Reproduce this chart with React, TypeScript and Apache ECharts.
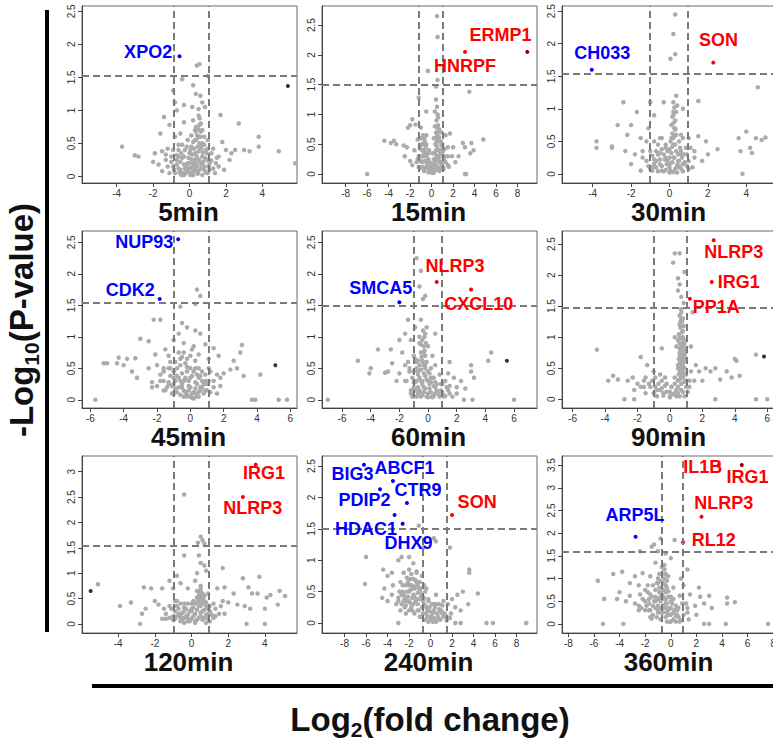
import React, { useEffect, useRef } from "react";
import * as echarts from "echarts";

// ---------- panel metadata ----------
const TITLES = ["5min", "15min", "30min", "45min", "60min", "90min", "120min", "240min", "360min"];
const X_MIN = [-5.9, -10.2, -5.6, -6.5, -7.4, -6.65, -5.97, -10.1, -8.5];
const X_MAX = [5.9, 9.8, 5.6, 6.4, 7.6, 6.6, 5.75, 9.9, 8.3];
const Y_MIN = [-0.1, -0.15, -0.14, -0.13, -0.13, -0.14, -0.18, -0.16, -0.2];
const Y_MAX = [2.58, 2.82, 2.58, 2.68, 2.68, 2.71, 3.31, 2.66, 3.7];
const X_TICKS_4 = [-4, -2, 0, 2, 4];
const X_TICKS_6 = [-6, -4, -2, 0, 2, 4, 6];
const X_TICKS_8 = [-8, -6, -4, -2, 0, 2, 4, 6, 8];
const X_TICKS = [X_TICKS_4, X_TICKS_8, X_TICKS_4, X_TICKS_6, X_TICKS_6, X_TICKS_6, X_TICKS_4, X_TICKS_8, X_TICKS_8];
const Y_TICKS_25 = [0, 0.5, 1, 1.5, 2, 2.5];
const Y_TICKS_30 = [0, 0.5, 1, 1.5, 2, 2.5, 3];
const Y_TICKS_35 = [0, 0.5, 1, 1.5, 2, 2.5, 3, 3.5];
const Y_TICKS = [Y_TICKS_25, Y_TICKS_25, Y_TICKS_25, Y_TICKS_25, Y_TICKS_25, Y_TICKS_25, Y_TICKS_30, Y_TICKS_25, Y_TICKS_35];
const P_CUT = [1.53, 1.5, 1.54, 1.54, 1.5, 1.48, 1.54, 1.5, 1.58];
const FC_CUT_LO = [-0.88, -1.2, -1.04, -0.98, -0.97, -0.98, -0.99, -0.75, -0.7];
const FC_CUT_HI = [1.04, 1.0, 0.93, 1.1, 0.97, 1.05, 0.93, 1.5, 0.94];

// ---------- non-significant proteins (log2 FC, -log10 p): scattered ones ----------
const GREY_5 = [[0.4,1.68],[0.55,1.7],[-0.4,1.47],[1.0,1.52],[0.2,1.38],[0.35,1.25],[-0.9,1.3],[-0.8,1.12],[-0.7,1.0],[0.6,1.22],[0.7,1.12],[0.85,1.05],[-0.3,1.08],[0.15,1.05],[0.5,1.02],[-1.4,0.9],[-1.1,0.78],[-0.3,0.82],[0.2,0.85],[0.35,0.75],[0.55,0.78],[0.7,0.7],[2.7,0.8],[1.7,0.93],[-1.6,0.65],[-0.8,0.6],[-0.5,0.65],[0.3,0.7],[0.5,0.6],[0.8,0.6],[1.0,0.55],[1.8,0.52],[-3.7,0.45],[-1.9,0.35],[-1.5,0.38],[-1.2,0.42],[-2.8,0.3],[-3.0,0.32],[-2.0,0.22],[-1.7,0.18],[-1.3,0.25],[-1.0,0.3],[-0.6,0.4],[-0.4,0.48],[0.1,0.45],[0.3,0.55],[0.6,0.45],[0.9,0.4],[1.2,0.35],[1.5,0.28],[2.0,0.4],[2.3,0.35],[2.5,0.4],[3.0,0.4],[3.3,0.38],[3.8,0.45],[3.8,0.6],[4.9,0.38],[5.8,0.2],[1.6,0.15],[1.1,0.2],[-0.9,0.15],[-0.5,0.1],[-0.2,0.05],[0.2,0.02],[0.5,0.08],[0.8,0.1],[-0.7,0.25],[-0.3,0.3],[0.0,0.2],[0.3,0.25],[0.7,0.3],[1.0,0.05],[-1.5,0.08],[0.0,0.35],[0.4,0.15],[-0.1,0.12],[0.6,0.2],[1.3,0.12],[-1.1,0.05],[2.2,0.25],[1.9,0.1]];
const GREY_15 = [[0.5,2.65],[0.55,2.3],[-0.35,1.73],[0.55,1.58],[0.4,1.47],[3.5,1.38],[-1.2,1.28],[0.4,1.25],[0.5,1.13],[0.3,1.05],[-0.5,1.05],[0.6,0.95],[-1.8,0.92],[-2.0,0.82],[-1.5,0.83],[-2.2,0.78],[-1.0,0.78],[0.3,0.8],[0.7,0.75],[0.9,0.7],[1.3,0.65],[1.7,0.68],[-0.8,0.65],[-1.3,0.58],[-4.4,0.56],[-3.5,0.56],[-3.8,0.52],[-3.3,0.5],[-2.6,0.48],[-2.3,0.45],[-1.6,0.4],[-1.1,0.45],[-0.5,0.5],[0.2,0.6],[0.5,0.55],[1.0,0.5],[1.5,0.45],[2.0,0.45],[2.9,0.52],[3.1,0.45],[4.8,0.58],[3.7,0.52],[3.9,0.4],[3.6,0.35],[2.5,0.3],[2.2,0.2],[-2.5,0.3],[-2.0,0.22],[-1.8,0.15],[-1.3,0.25],[-0.9,0.3],[-0.5,0.2],[-0.2,0.1],[0.0,0.05],[0.3,0.15],[0.6,0.3],[0.9,0.2],[1.2,0.3],[1.5,0.15],[-6.0,0],[3.1,0],[3.2,0],[-0.7,0.35],[0.1,0.35],[0.4,0.4],[0.8,0.4],[-0.3,0.35],[1.1,0.1],[-1.0,0.1],[0.2,0.02],[-0.5,0.65],[0.7,0.55],[1.9,0.3]];
const GREY_30 = [[0.3,2.45],[0.2,2.15],[0.3,1.84],[0.05,1.77],[4.6,1.33],[0.35,1.2],[0.2,1.1],[0.4,1.05],[-0.3,1.1],[0.7,1.0],[1.5,1.12],[-1.0,1.1],[-2.4,1.1],[-1.7,0.95],[-0.8,0.9],[0.2,0.9],[-2.0,0.75],[-1.1,0.7],[-2.7,0.75],[-3.0,0.42],[-3.8,0.5],[-3.8,0.4],[-2.2,0.6],[-1.5,0.55],[-0.5,0.55],[0.3,0.7],[0.6,0.6],[1.0,0.55],[1.5,0.58],[1.9,0.5],[2.5,0.38],[3.6,0.55],[3.7,0.35],[4.0,0.65],[4.2,0.4],[4.3,0.32],[4.5,0.55],[4.8,0.52],[5.0,0.56],[3.8,0.0],[-2.3,0.35],[-1.8,0.3],[-1.4,0.25],[-1.0,0.35],[-0.6,0.3],[-0.2,0.4],[0.2,0.45],[0.6,0.35],[0.9,0.3],[1.3,0.25],[1.7,0.2],[2.0,0.3],[-2.0,0.15],[-1.5,0.05],[-0.9,0.1],[-0.4,0.05],[0.0,0.15],[0.4,0.1],[0.7,0.15],[1.0,0.08],[-0.7,0.2],[-0.2,0.25],[0.2,0.25],[0.5,0.2],[1.1,0.4],[-1.2,0.5],[0.0,0.02],[-3.0,0.4]];
const GREY_45 = [[0.4,1.75],[0.6,1.65],[0.3,1.52],[-0.6,1.48],[-2.2,1.27],[-1.8,1.27],[-0.5,1.22],[-0.2,1.15],[0.3,1.1],[0.6,1.05],[-0.7,1.05],[-3.0,0.97],[-2.5,0.93],[-1.0,0.95],[-0.4,0.9],[0.2,0.85],[0.9,0.88],[1.4,0.82],[3.1,0.87],[3.0,0.75],[-1.5,0.8],[-2.1,0.72],[-1.3,0.7],[-0.7,0.75],[0.0,0.7],[0.5,0.72],[1.1,0.65],[1.7,0.7],[2.6,0.62],[-4.3,0.67],[-3.8,0.65],[-3.3,0.66],[-4.4,0.58],[-5.0,0.58],[-5.2,0.58],[-3.5,0.45],[-3.2,0.35],[-4.0,0.55],[-2.5,0.5],[-2.0,0.55],[-1.6,0.45],[-1.2,0.5],[-0.6,0.55],[-0.2,0.45],[0.3,0.5],[0.7,0.45],[1.2,0.45],[1.6,0.4],[2.0,0.42],[2.4,0.48],[2.8,0.5],[3.2,0.38],[4.2,0.4],[-2.3,0.28],[-2.3,0.2],[-1.8,0.3],[-1.3,0.25],[-0.9,0.3],[-0.5,0.2],[-0.1,0.15],[0.3,0.1],[0.6,0.2],[1.0,0.15],[1.4,0.2],[1.8,0.22],[-1.0,0.1],[-0.4,0.05],[0.1,0.03],[0.5,0.05],[-5.7,0.0],[3.7,0.0],[3.9,0.0],[5.3,0.0],[5.8,0.0],[-1.6,0.15],[0.9,0.3],[-0.3,0.32]];
const GREY_60 = [[-0.8,2.25],[-0.5,2.05],[-0.6,1.8],[-0.2,1.65],[-0.35,1.6],[-1.4,1.27],[-0.5,1.27],[-0.1,1.15],[-0.2,1.05],[-0.9,1.15],[0.5,1.05],[-1.6,1.05],[-2.0,0.95],[-1.2,0.95],[-0.6,0.9],[0.0,0.85],[-3.5,0.8],[-2.6,0.8],[-1.8,0.75],[-1.0,0.7],[-0.3,0.75],[0.3,0.7],[4.4,0.75],[-4.9,0.62],[-2.5,0.58],[-1.6,0.55],[-0.8,0.6],[-0.2,0.55],[0.5,0.55],[1.5,0.6],[3.0,0.55],[4.2,0.62],[-4.0,0.5],[-4.1,0.42],[-3.0,0.43],[-2.8,0.45],[-2.0,0.42],[-1.3,0.45],[-0.7,0.45],[0.1,0.42],[0.8,0.4],[1.4,0.42],[1.8,0.35],[2.3,0.3],[3.2,0.35],[3.0,0.45],[-2.2,0.3],[-1.6,0.3],[-1.0,0.28],[-0.4,0.3],[0.2,0.28],[0.6,0.25],[1.0,0.25],[1.5,0.22],[2.0,0.2],[2.6,0.18],[-1.2,0.15],[-0.6,0.12],[0.0,0.1],[0.5,0.1],[1.0,0.08],[1.5,0.1],[-7.0,0.0],[-1.0,0.05],[2.5,0.0],[3.1,0.0],[6.0,0.0],[0.3,0.05],[-0.3,0.2],[0.4,0.35],[-1.4,0.6]];
const GREY_90 = [[0.3,2.35],[0.6,2.35],[0.2,2.2],[0.9,2.05],[0.5,1.95],[0.6,1.85],[0.5,1.75],[0.7,1.65],[0.85,1.55],[0.7,1.45],[1.4,1.4],[0.7,1.3],[0.6,1.2],[0.8,1.1],[0.3,1.0],[0.5,0.95],[0.9,0.9],[0.4,0.85],[0.8,0.8],[1.3,0.85],[-0.5,0.82],[0.6,0.75],[0.9,0.7],[0.6,0.65],[0.8,0.6],[0.5,0.55],[0.9,0.5],[-4.5,0.8],[-1.8,0.68],[-1.4,0.55],[-1.0,0.45],[-0.6,0.4],[-0.3,0.35],[-0.9,0.35],[-3.8,0.3],[-3.5,0.38],[-3.2,0.32],[-2.6,0.3],[-2.3,0.35],[-2.0,0.25],[-1.6,0.3],[-1.2,0.2],[-0.8,0.15],[-0.4,0.1],[0.0,0.05],[0.3,0.1],[0.5,0.3],[0.8,0.35],[1.0,0.4],[1.3,0.45],[1.6,0.55],[1.8,0.45],[2.2,0.5],[2.5,0.45],[2.8,0.5],[3.1,0.32],[3.5,0.45],[3.8,0.35],[4.0,0.65],[4.1,0.62],[4.3,0.38],[5.3,0.72],[-2.8,0.0],[-2.2,0.0],[2.8,0.0],[5.3,0.0],[6.0,0.0],[1.2,0.2],[1.5,0.3],[2.0,0.3],[-1.5,0.1],[0.6,0.45],[0.7,0.25],[0.1,0.2]];
const GREY_120 = [[-0.4,2.55],[0.5,1.72],[0.6,1.65],[0.35,1.6],[0.7,1.58],[-0.4,1.35],[0.4,1.35],[0.5,1.2],[0.7,1.15],[0.8,1.05],[1.7,1.1],[0.3,1.0],[-0.8,0.95],[-1.2,0.85],[-0.6,0.8],[0.2,0.85],[0.5,0.75],[2.8,0.9],[3.7,0.93],[-1.6,0.7],[-1.0,0.7],[-0.2,0.7],[0.5,0.65],[0.9,0.6],[1.4,0.7],[1.8,0.72],[2.3,0.6],[3.1,0.72],[3.3,0.6],[3.6,0.6],[4.1,0.52],[4.3,0.57],[4.8,0.65],[5.1,0.55],[-5.1,0.78],[-3.3,0.42],[-3.9,0.35],[-2.6,0.72],[-2.2,0.7],[-2.0,0.45],[-1.8,0.38],[-1.5,0.3],[-2.5,0.3],[-2.7,0.2],[-1.2,0.35],[-0.8,0.45],[-0.4,0.4],[0.0,0.4],[0.4,0.45],[0.8,0.35],[1.2,0.4],[1.6,0.35],[2.0,0.42],[2.5,0.38],[2.9,0.35],[3.2,0.3],[4.0,0.3],[4.7,0.38],[-2.8,0.0],[3.0,0.0],[4.0,0.0],[-1.0,0.15],[-0.6,0.1],[-0.2,0.05],[0.2,0.02],[0.5,0.15],[0.9,0.1],[1.3,0.15],[1.8,0.2],[-1.4,0.1],[0.0,0.25],[0.6,0.25],[-0.4,0.25],[1.0,0.25]];
const GREY_240 = [[-1.1,1.55],[0.3,1.35],[0.5,1.3],[1.8,1.2],[-0.7,1.2],[-2.7,1.05],[-3.0,1.0],[-2.0,1.05],[-1.6,0.95],[-6.0,1.05],[-4.4,0.85],[-4.0,0.75],[-3.6,0.8],[-2.5,0.8],[-1.3,0.82],[-0.8,0.75],[-1.9,0.7],[-2.8,0.65],[-3.5,0.6],[-4.3,0.55],[-6.1,0.62],[3.6,0.85],[3.6,0.8],[4.4,0.47],[3.0,0.5],[2.5,0.45],[3.5,0.3],[2.3,0.25],[2.8,0.2],[-4.5,0.4],[-4.0,0.35],[-3.6,0.45],[-3.0,0.4],[-2.5,0.45],[-2.0,0.5],[-1.5,0.55],[-1.0,0.5],[-0.6,0.4],[-0.2,0.35],[0.3,0.3],[0.8,0.3],[1.2,0.35],[1.6,0.3],[2.0,0.38],[-3.2,0.3],[-2.7,0.3],[-2.2,0.35],[-1.7,0.4],[-1.2,0.3],[-0.8,0.25],[-0.3,0.2],[0.2,0.15],[0.7,0.1],[1.1,0.15],[1.5,0.1],[1.9,0.15],[-2.0,0.2],[-1.5,0.15],[-1.0,0.1],[-0.5,0.05],[0.0,0.05],[0.5,0.02],[-3.0,0.0],[2.3,0.0],[2.8,0.0],[5.2,0.0],[5.8,0.0],[8.9,0.0],[-1.8,0.6],[-2.3,0.6],[-1.3,0.65],[-0.4,0.55],[0.5,0.45],[1.0,0.2]];
const GREY_360 = [[-0.8,1.88],[0.3,1.85],[-1.5,1.7],[-1.3,1.75],[-2.4,1.6],[-1.0,1.6],[-0.4,1.55],[0.0,1.45],[-1.2,1.35],[-0.5,1.3],[-3.8,1.15],[-4.5,1.1],[-2.8,1.05],[-2.2,1.12],[-1.6,1.05],[-0.9,1.1],[-0.2,1.05],[1.3,1.2],[0.8,1.0],[-5.7,0.95],[-3.2,0.9],[-2.5,0.85],[-1.8,0.85],[-1.0,0.9],[-0.4,0.85],[0.2,0.8],[1.0,0.85],[2.2,0.8],[-4.0,0.7],[-3.2,0.62],[-2.4,0.65],[-1.6,0.65],[-0.8,0.7],[0.0,0.6],[0.7,0.62],[1.5,0.65],[2.3,0.6],[3.0,0.62],[-5.2,0.55],[-4.2,0.55],[-3.5,0.5],[-2.8,0.45],[-2.0,0.5],[-1.2,0.5],[-0.4,0.45],[0.4,0.4],[1.2,0.45],[1.9,0.4],[2.6,0.45],[3.2,0.35],[4.4,0.58],[4.4,0.45],[5.0,0.48],[-2.5,0.3],[-1.7,0.3],[-1.0,0.3],[-0.3,0.25],[0.5,0.2],[1.3,0.25],[2.0,0.2],[-1.5,0.12],[-0.8,0.1],[0.0,0.05],[0.7,0.05],[1.4,0.1],[-5.3,0.0],[-3.7,0.0],[2.6,0.0],[3.0,0.0],[4.3,0.0],[7.6,0.0],[-0.6,0.6],[-0.2,0.35],[0.3,0.3],[-2.0,0.75]];

// ---------- non-significant proteins: the dense central cloud ----------
const CORE_5 = [[-0.8,0.05],[-0.6,0.12],[-0.45,0.02],[-0.3,0.18],[-0.15,0.08],[0.05,0.13],[0.2,0.07],[0.35,0.2],[0.45,0.04],[0.6,0.12],[0.75,0.22],[0.9,0.06],[1.05,0.15],[1.2,0.24],[-0.7,0.32],[-0.5,0.22],[-0.25,0.4],[-0.05,0.28],[0.15,0.33],[0.25,0.42],[0.4,0.3],[0.5,0.38],[0.55,0.5],[0.65,0.42],[0.85,0.28],[1.3,0.42],[1.45,0.2],[-1.0,0.22],[-1.2,0.15],[-0.9,0.4],[0.42,0.62],[0.48,0.72],[0.62,0.68],[0.38,0.55],[0.2,0.52],[-0.1,0.55],[0.05,0.02],[-0.35,0.05],[0.3,0.1],[0.7,0.02],[1.6,0.3],[1.4,0.05],[-1.3,0.33],[-0.6,0.48],[0.1,0.62],[0.55,0.88],[0.7,0.5],[0.95,0.35],[-0.2,0.15],[0.15,0.2],
  [-0.85,0.1],[-0.7,0.18],[-0.55,0.06],[-0.4,0.28],[-0.25,0.12],[-0.1,0.2],[0.0,0.06],[0.1,0.26],[0.25,0.15],[0.32,0.35],[0.4,0.08],[0.52,0.25],[0.65,0.18],[0.72,0.36],[0.82,0.15],[0.95,0.25],[1.1,0.1],[0.45,0.45],[0.58,0.6],[0.35,0.68],[0.62,0.8],[0.5,0.92],[-0.45,0.35],[-0.15,0.45],[0.05,0.4],[0.8,0.48],[-0.6,0.3],[1.0,0.42],[0.2,0.12],[-0.3,0.02]];
const CORE_15 = [[-1.1,0.1],[-0.9,0.2],[-0.7,0.05],[-0.5,0.12],[-0.3,0.03],[-0.1,0.08],[0.1,0.02],[0.3,0.07],[0.5,0.12],[0.7,0.05],[0.9,0.15],[1.1,0.08],[1.3,0.2],[-0.9,0.4],[-0.75,0.3],[-0.6,0.22],[-0.55,0.45],[-0.4,0.18],[-0.2,0.12],[0.35,0.2],[0.45,0.3],[0.55,0.42],[0.65,0.25],[0.8,0.35],[1.0,0.3],[1.2,0.42],[-0.65,0.55],[-0.8,0.5],[0.5,0.65],[0.4,0.7],[0.6,0.82],[0.45,0.9],[0.55,1.0],[0.7,0.62],[0.35,0.5],[-1.2,0.3],[-1.4,0.2],[1.5,0.3],[1.6,0.12],[-0.3,0.25],[0.2,0.25],[0.0,0.15],[-1.0,0.6],[0.85,0.55],[-0.45,0.35],[0.9,0.48],
  [-1.0,0.22],[-0.85,0.12],[-0.7,0.4],[-0.6,0.1],[-0.5,0.3],[-0.35,0.1],[-0.2,0.2],[-0.05,0.03],[0.05,0.1],[0.15,0.18],[0.25,0.05],[0.4,0.15],[0.5,0.25],[0.6,0.1],[0.75,0.2],[0.85,0.08],[1.0,0.18],[1.15,0.25],[0.45,0.48],[0.6,0.55],[0.5,0.78],[0.65,0.7],[0.4,0.6],[-0.7,0.6],[-0.95,0.5],[0.3,0.35],[0.7,0.4],[1.05,0.38],[-0.25,0.4],[-1.2,0.12]];
const CORE_30 = [[-1.0,0.08],[-0.8,0.15],[-0.6,0.04],[-0.4,0.12],[-0.2,0.06],[0.0,0.1],[0.2,0.03],[0.4,0.14],[0.6,0.08],[0.8,0.18],[-0.9,0.28],[-0.7,0.35],[-0.5,0.22],[-0.3,0.3],[-0.1,0.2],[0.1,0.32],[0.25,0.25],[0.45,0.3],[0.65,0.25],[0.85,0.4],[-0.6,0.45],[-0.2,0.45],[0.05,0.5],[0.2,0.55],[0.3,0.45],[0.15,0.62],[0.25,0.7],[0.1,0.75],[0.3,0.82],[0.2,0.95],[0.35,0.6],[0.5,0.5],[-0.4,0.55],[-1.2,0.2],[-1.4,0.35],[1.0,0.2],[1.2,0.1],[1.3,0.35],[-0.1,0.35],[0.55,0.4],[-0.8,0.5],[0.7,0.55],[0.0,0.25],[0.4,0.02],
  [-0.9,0.05],[-0.7,0.1],[-0.5,0.15],[-0.3,0.04],[-0.15,0.15],[0.05,0.05],[0.15,0.18],[0.3,0.08],[0.5,0.12],[0.7,0.04],[0.75,0.3],[-0.8,0.22],[-0.6,0.3],[-0.4,0.38],[-0.25,0.22],[0.0,0.38],[0.15,0.42],[0.35,0.35],[0.1,0.55],[0.25,0.58],[0.2,0.78],[0.3,0.68],[0.15,0.88],[0.25,1.02],[0.35,0.95],[-0.5,0.32],[0.6,0.3],[0.9,0.12],[-1.1,0.12],[0.45,0.2]];
const CORE_45 = [[-1.6,0.3],[-1.4,0.2],[-1.2,0.38],[-1.0,0.25],[-0.8,0.12],[-0.6,0.3],[-0.4,0.15],[-0.2,0.08],[0.0,0.2],[0.2,0.12],[0.4,0.05],[0.6,0.15],[0.8,0.1],[1.0,0.25],[1.2,0.12],[1.4,0.3],[-1.3,0.5],[-1.0,0.45],[-0.8,0.38],[-0.5,0.42],[-0.3,0.35],[-0.1,0.3],[0.1,0.38],[0.3,0.28],[0.5,0.35],[0.7,0.3],[0.9,0.4],[-0.9,0.6],[-0.6,0.65],[-0.3,0.58],[0.0,0.5],[0.3,0.62],[-1.8,0.4],[-2.0,0.22],[1.6,0.1],[1.8,0.35],[-0.7,0.2],[0.2,0.02],[-0.2,0.05],[0.5,0.5],[-1.1,0.1],[1.1,0.5],[-0.4,0.75],[0.1,0.8],
  [-1.5,0.15],[-1.3,0.28],[-1.1,0.22],[-0.9,0.18],[-0.7,0.35],[-0.5,0.25],[-0.3,0.12],[-0.1,0.22],[0.1,0.1],[0.3,0.18],[0.5,0.12],[0.7,0.2],[0.9,0.15],[1.1,0.3],[-1.2,0.6],[-0.8,0.5],[-0.5,0.68],[-0.2,0.52],[0.2,0.45],[0.4,0.4],[0.6,0.38],[-1.6,0.5],[-0.4,0.3],[0.0,0.35],[0.8,0.25],[-0.6,0.08],[0.0,0.05],[0.4,0.25],[-1.0,0.35],[-0.2,0.65]];
const CORE_60 = [[-1.2,0.1],[-1.0,0.2],[-0.8,0.05],[-0.6,0.15],[-0.4,0.08],[-0.2,0.18],[0.0,0.04],[0.2,0.12],[0.4,0.06],[0.6,0.15],[0.8,0.05],[1.0,0.12],[1.2,0.06],[1.4,0.15],[1.7,0.05],[-1.1,0.35],[-0.9,0.28],[-0.7,0.4],[-0.5,0.3],[-0.3,0.42],[-0.1,0.32],[0.1,0.25],[-0.6,0.55],[-0.4,0.62],[-0.2,0.5],[-0.5,0.75],[-0.3,0.85],[-0.4,0.95],[-0.2,0.7],[-0.6,1.0],[-0.35,1.1],[-0.1,0.6],[0.3,0.35],[0.5,0.28],[-0.8,0.5],[-1.3,0.5],[-1.5,0.3],[0.9,0.25],[1.2,0.3],[2.0,0.1],[0.0,0.45],[-0.9,0.65],[0.2,0.5],[-0.7,0.2],
  [-1.1,0.05],[-0.9,0.15],[-0.7,0.1],[-0.5,0.05],[-0.3,0.12],[-0.1,0.05],[0.1,0.18],[0.3,0.04],[0.5,0.2],[0.7,0.1],[0.9,0.15],[1.1,0.05],[-0.8,0.3],[-0.6,0.35],[-0.4,0.25],[-0.2,0.38],[0.0,0.3],[-0.5,0.48],[-0.3,0.55],[-0.45,0.68],[-0.25,0.78],[-0.35,0.6],[-0.15,0.9],[-0.5,0.88],[-0.25,1.0],[0.2,0.35],[-0.7,0.62],[1.3,0.2],[-1.0,0.45],[0.4,0.22]];
const CORE_90 = [[-1.0,0.1],[-0.8,0.05],[-0.6,0.15],[-0.4,0.06],[-0.2,0.12],[0.0,0.03],[0.2,0.08],[0.4,0.15],[0.6,0.05],[0.8,0.12],[1.0,0.2],[-1.3,0.25],[-1.1,0.3],[-0.7,0.25],[-0.3,0.22],[0.3,0.25],[0.5,0.2],[0.7,0.35],[0.9,0.28],[0.55,0.4],[0.75,0.45],[0.65,0.55],[0.85,0.6],[0.55,0.65],[0.75,0.72],[0.65,0.82],[0.85,0.85],[0.6,0.9],[0.7,0.98],[0.55,1.05],[0.8,1.0],[0.65,1.15],[0.75,1.25],[0.6,1.35],[0.8,0.55],[0.5,0.5],[0.9,0.42],[-2.2,0.15],[-1.8,0.2],[-1.5,0.35],[1.2,0.3],[1.1,0.12],[-0.5,0.3],[0.1,0.2],[0.7,0.15],[0.95,0.75],
  [0.6,0.32],[0.7,0.5],[0.8,0.4],[0.6,0.58],[0.7,0.62],[0.9,0.65],[0.6,0.7],[0.8,0.68],[0.7,0.78],[0.9,0.8],[0.6,0.82],[0.8,0.92],[0.7,0.88],[0.9,0.95],[0.6,1.0],[0.75,1.08],[0.85,1.18],[0.65,1.25],[0.7,1.4],[0.8,1.3],[-0.9,0.2],[-0.5,0.18],[0.0,0.12],[0.4,0.05],[0.9,0.05],[-1.6,0.2],[-0.2,0.25],[0.3,0.35],[1.0,0.3],[0.5,0.1]];
const CORE_120 = [[-1.0,0.08],[-0.8,0.15],[-0.6,0.05],[-0.4,0.12],[-0.2,0.18],[0.0,0.1],[0.2,0.05],[0.4,0.12],[0.6,0.08],[0.8,0.18],[1.0,0.05],[1.2,0.12],[-1.1,0.3],[-0.9,0.25],[-0.7,0.3],[-0.5,0.22],[-0.3,0.3],[-0.1,0.25],[0.1,0.32],[0.3,0.28],[0.5,0.35],[0.7,0.28],[0.9,0.3],[0.35,0.45],[0.45,0.55],[0.55,0.48],[0.4,0.62],[0.6,0.6],[0.5,0.7],[0.3,0.52],[-0.6,0.4],[-0.9,0.45],[1.3,0.3],[1.5,0.2],[1.7,0.45],[-1.4,0.2],[-1.6,0.1],[0.7,0.45],[0.2,0.4],[-0.2,0.4],[0.8,0.02],[-0.4,0.02],
  [-0.9,0.1],[-0.7,0.2],[-0.5,0.08],[-0.3,0.15],[-0.1,0.05],[0.1,0.15],[0.3,0.08],[0.5,0.22],[0.7,0.12],[0.9,0.2],[1.1,0.18],[-0.8,0.35],[-0.4,0.32],[0.0,0.3],[0.2,0.2],[0.4,0.35],[0.6,0.4],[0.8,0.42],[0.5,0.5],[0.4,0.55],[0.6,0.52],[0.5,0.6],[0.3,0.65],[0.45,0.4],[-0.6,0.15],[1.0,0.35],[-1.2,0.12],[0.7,0.55],[-0.2,0.1],[0.1,0.45]];
const CORE_240 = [[-3.0,0.35],[-2.7,0.45],[-2.4,0.25],[-2.2,0.5],[-2.0,0.35],[-1.8,0.25],[-1.6,0.45],[-1.4,0.35],[-1.2,0.48],[-1.0,0.38],[-0.8,0.45],[-0.6,0.3],[-0.4,0.25],[-2.6,0.6],[-2.1,0.65],[-1.6,0.7],[-1.2,0.6],[-0.9,0.55],[-2.4,0.4],[-1.9,0.52],[-1.5,0.58],[-1.1,0.2],[-0.7,0.15],[-0.3,0.1],[0.0,0.18],[0.3,0.08],[0.6,0.15],[0.9,0.05],[1.2,0.1],[1.5,0.04],[-0.2,0.02],[0.4,0.25],[0.8,0.22],[1.1,0.28],[-1.7,0.2],[-2.3,0.15],[-2.8,0.2],[-0.5,0.5],[-0.2,0.38],[0.1,0.3],[-1.3,0.8],[-2.0,0.85],[0.2,0.02],[1.8,0.08],
  [-2.9,0.5],[-2.5,0.35],[-2.3,0.28],[-2.1,0.42],[-1.9,0.32],[-1.7,0.55],[-1.5,0.42],[-1.3,0.38],[-1.1,0.55],[-0.9,0.42],[-0.7,0.35],[-0.5,0.28],[-2.2,0.72],[-1.8,0.78],[-1.4,0.68],[-1.0,0.65],[-2.6,0.5],[-1.2,0.2],[-0.8,0.1],[-0.4,0.15],[0.0,0.1],[0.3,0.2],[0.6,0.05],[0.9,0.18],[1.3,0.15],[-0.1,0.25],[0.5,0.3],[-1.6,0.3],[-2.0,0.6],[-0.6,0.6]];
const CORE_360 = [[-2.0,0.3],[-1.7,0.45],[-1.4,0.2],[-1.2,0.35],[-1.0,0.55],[-0.8,0.25],[-0.6,0.4],[-0.4,0.15],[-0.2,0.3],[0.0,0.2],[0.2,0.1],[0.4,0.05],[0.6,0.15],[0.8,0.08],[-1.5,0.6],[-1.2,0.75],[-0.9,0.8],[-0.6,0.9],[-0.4,0.7],[-0.2,0.6],[0.1,0.45],[-1.0,1.0],[-0.7,1.1],[-0.5,1.2],[-0.3,0.95],[-0.8,0.5],[-0.5,0.55],[-1.3,0.5],[-1.8,0.7],[-2.2,0.55],[-2.5,0.4],[0.3,0.3],[0.6,0.35],[1.0,0.2],[1.3,0.35],[-0.1,0.05],[-0.3,0.45],[-0.9,0.35],[-1.6,0.3],[0.9,0.45],[-0.7,0.65],[-1.1,0.15],
  [-1.9,0.4],[-1.6,0.15],[-1.4,0.4],[-1.2,0.6],[-1.0,0.4],[-0.8,0.6],[-0.6,0.25],[-0.4,0.55],[-0.2,0.2],[0.0,0.35],[0.2,0.25],[0.4,0.18],[-1.4,0.85],[-1.1,0.9],[-0.8,0.95],[-0.5,1.0],[-0.3,0.8],[-0.6,0.75],[-0.9,0.7],[-0.2,0.72],[-0.7,1.25],[-0.4,1.1],[-1.0,0.25],[-0.5,0.35],[0.0,0.5],[0.5,0.3],[-2.3,0.35],[-1.7,0.55],[-0.3,0.05],[0.2,0.55]];

const GREY = [GREY_5, GREY_15, GREY_30, GREY_45, GREY_60, GREY_90, GREY_120, GREY_240, GREY_360];
const CORE = [CORE_5, CORE_15, CORE_30, CORE_45, CORE_60, CORE_90, CORE_120, CORE_240, CORE_360];

// dark outlier dots
const DARK = [[[5.4, 1.37]], [], [], [[5.1, 0.55]], [[5.5, 0.62]], [[5.8, 0.69]], [[-5.5, 0.65]], [], []];

// ---------- significant hits: gene, log2FC, -log10 p, direction ----------
const HITS_5 = [["XPO2", -0.55, 1.82, "down"]];
const HITS_15 = [["ERMP1", 8.9, 2.05, "up2"], ["HNRPF", 3.1, 2.05, "up"]];
const HITS_30 = [["CH033", -4.05, 1.6, "down"], ["SON", 2.28, 1.71, "up"]];
const HITS_45 = [["NUP93", -0.73, 2.55, "down"], ["CDK2", -1.84, 1.6, "down"]];
const HITS_60 = [["SMCA5", -2.0, 1.55, "down"], ["NLRP3", 0.6, 1.87, "up"], ["CXCL10", 3.0, 1.75, "up"]];
const HITS_90 = [["NLRP3", 2.7, 2.56, "up"], ["IRG1", 2.58, 1.89, "up"], ["PP1A", 1.23, 1.62, "up"]];
const HITS_120 = [["IRG1", 3.5, 3.14, "up"], ["NLRP3", 2.8, 2.5, "up"]];
const HITS_240 = [["BIG3", -6.2, 2.52, "down"], ["ABCF1", -3.5, 2.26, "down"], ["PDIP2", -4.7, 2.13, "down"], ["CTR9", -2.2, 1.91, "down"], ["HDAC1", -3.35, 1.72, "down"], ["DHX9", -2.6, 1.58, "down"], ["SON", 2.0, 1.72, "up"]];
const HITS_360 = [["IL1B", 3.75, 3.5, "up"], ["IRG1", 5.55, 3.5, "up2"], ["NLRP3", 2.4, 2.36, "up"], ["RL12", 0.96, 1.8, "up"], ["ARP5L", -2.75, 1.92, "down"]];
const HITS = [HITS_5, HITS_15, HITS_30, HITS_45, HITS_60, HITS_90, HITS_120, HITS_240, HITS_360];

// gene-name anchors (data coordinates of the label centre)
const TAGS_5 = [["XPO2", -2.27, 1.88, "down"]];
const TAGS_15 = [["ERMP1", 6.4, 2.33, "up"], ["HNRPF", 3.1, 1.81, "up"]];
const TAGS_30 = [["CH033", -3.5, 1.86, "down"], ["SON", 2.55, 2.05, "up"]];
const TAGS_45 = [["NUP93", -2.77, 2.51, "down"], ["CDK2", -3.6, 1.75, "down"]];
const TAGS_60 = [["SMCA5", -3.3, 1.78, "down"], ["NLRP3", 1.88, 2.12, "up"], ["CXCL10", 3.54, 1.52, "up"]];
const TAGS_90 = [["NLRP3", 3.94, 2.37, "up"], ["IRG1", 4.25, 1.89, "up"], ["PP1A", 2.86, 1.49, "up"]];
const TAGS_120 = [["IRG1", 3.95, 2.98, "up"], ["NLRP3", 3.34, 2.29, "up"]];
const TAGS_240 = [["BIG3", -7.26, 2.37, "down"], ["ABCF1", -2.42, 2.47, "down"], ["PDIP2", -6.14, 1.96, "down"], ["CTR9", -1.16, 2.12, "down"], ["HDAC1", -6.0, 1.5, "down"], ["DHX9", -2.05, 1.28, "down"], ["SON", 4.33, 1.93, "up"]];
const TAGS_360 = [["IL1B", 2.5, 3.46, "up"], ["IRG1", 6.0, 3.24, "up"], ["NLRP3", 4.14, 2.67, "up"], ["RL12", 3.36, 1.85, "up"], ["ARP5L", -2.8, 2.4, "down"]];
const TAGS = [TAGS_5, TAGS_15, TAGS_30, TAGS_45, TAGS_60, TAGS_90, TAGS_120, TAGS_240, TAGS_360];

// ---------- layout ----------
const COL_LEFT = [82, 322, 562];
const ROW_TOP = [6, 231, 456];
const BOX_W = 215;
const BOX_H = 177;
const FONT = "Liberation Sans, Arial, sans-serif";
const COLORS: Record<string, string> = { up: "#ff0000", up2: "#8b0000", down: "#0000ff" };
const TAG_COLORS: Record<string, string> = { up: "#ff0000", down: "#0000ff" };

function buildOption() {
  const grid: any[] = [];
  const xAxis: any[] = [];
  const yAxis: any[] = [];
  const series: any[] = [];
  const graphic: any[] = [];

  for (let i = 0; i < 9; i++) {
    const col = i % 3;
    const row = Math.floor(i / 3);
    const left = COL_LEFT[col];
    const top = ROW_TOP[row];
    grid.push({
      left, top, width: BOX_W, height: BOX_H,
      show: true, borderColor: "#6a6a6a", borderWidth: 1, backgroundColor: "#fff",
      containLabel: false, outerBoundsMode: "none",
    });
    xAxis.push({
      gridIndex: i, type: "value", min: X_MIN[i], max: X_MAX[i],
      axisLine: { show: true, onZero: false, lineStyle: { color: "#444", width: 1 } },
      axisTick: { show: true, length: 4, customValues: X_TICKS[i], lineStyle: { color: "#444" } },
      axisLabel: { customValues: X_TICKS[i], fontSize: 10, color: "#333", margin: 5, fontFamily: FONT },
      splitLine: { show: false },
    });
    yAxis.push({
      gridIndex: i, type: "value", min: Y_MIN[i], max: Y_MAX[i],
      axisLine: { show: true, onZero: false, lineStyle: { color: "#444", width: 1 } },
      axisTick: { show: true, length: 4, customValues: Y_TICKS[i], lineStyle: { color: "#444" } },
      axisLabel: { customValues: Y_TICKS[i], fontSize: 10, color: "#333", margin: 6, rotate: 90, fontFamily: FONT },
      splitLine: { show: false },
    });
    series.push({
      type: "scatter", xAxisIndex: i, yAxisIndex: i, data: GREY[i].concat(CORE[i]),
      symbolSize: 4.5, itemStyle: { color: "#ababab", opacity: 1 }, silent: true, z: 2,
      markLine: {
        silent: true, symbol: ["none", "none"], label: { show: false },
        lineStyle: { color: "#7a7a7a", width: 2, type: [7, 4] },
        data: [{ xAxis: FC_CUT_LO[i] }, { xAxis: FC_CUT_HI[i] }, { yAxis: P_CUT[i] }],
      },
    });
    series.push({
      type: "scatter", xAxisIndex: i, yAxisIndex: i, data: DARK[i],
      symbolSize: 4, itemStyle: { color: "#333", opacity: 1 }, silent: true, z: 3,
    });
    series.push({
      type: "scatter", xAxisIndex: i, yAxisIndex: i, silent: true, z: 4, symbolSize: 4,
      itemStyle: { opacity: 1 },
      data: HITS[i].map((h: any) => ({ name: h[0], value: [h[1], h[2]], itemStyle: { color: COLORS[h[3]], opacity: 1 } })),
    });
    series.push({
      type: "scatter", xAxisIndex: i, yAxisIndex: i, silent: true, z: 5, symbolSize: 2,
      itemStyle: { color: "rgba(0,0,0,0)", opacity: 1 },
      data: TAGS[i].map((t: any) => ({
        name: t[0], value: [t[1], t[2]],
        label: { show: true, position: "inside", formatter: t[0], color: TAG_COLORS[t[3]], fontSize: 18, fontWeight: "bold", fontFamily: FONT, textBorderWidth: 0 },
      })),
    });
    graphic.push({
      type: "text", x: left + BOX_W / 2 - 1, y: top + BOX_H + 29,
      style: { text: TITLES[i], font: "bold 26px " + FONT, fill: "#111", align: "center", verticalAlign: "middle" },
    });
  }

  graphic.push({ type: "line", shape: { x1: 47, y1: 10, x2: 47, y2: 632 }, style: { stroke: "#000", lineWidth: 4 } });
  graphic.push({ type: "line", shape: { x1: 92, y1: 686, x2: 773, y2: 686 }, style: { stroke: "#000", lineWidth: 4 } });
  graphic.push({
    type: "text", x: 20, y: 320, rotation: Math.PI / 2,
    style: {
      text: "{a|-Log}{s|10}{a|(P-value)}", align: "center", verticalAlign: "middle", fill: "#111",
      rich: {
        a: { fontSize: 33, fontWeight: "bold", fontFamily: FONT, fill: "#111", lineHeight: 36, verticalAlign: "bottom" },
        s: { fontSize: 21, fontWeight: "bold", fontFamily: FONT, fill: "#111", lineHeight: 28, verticalAlign: "bottom", padding: [0, 0, -4, 0] },
      },
    },
  });
  graphic.push({
    type: "text", x: 430, y: 718,
    style: {
      text: "{a|Log}{s|2}{a|(fold change)}", align: "center", verticalAlign: "middle", fill: "#111",
      rich: {
        a: { fontSize: 33, fontWeight: "bold", fontFamily: FONT, fill: "#111", lineHeight: 36, verticalAlign: "bottom" },
        s: { fontSize: 21, fontWeight: "bold", fontFamily: FONT, fill: "#111", lineHeight: 28, verticalAlign: "bottom", padding: [0, 0, -4, 0] },
      },
    },
  });

  return { animation: false, backgroundColor: "#fff", grid, xAxis, yAxis, series, graphic };
}

export default function App() {
  const ref = useRef<HTMLDivElement>(null);
  useEffect(() => {
    if (!ref.current) return;
    const chart = echarts.init(ref.current, null, { renderer: "svg" });
    chart.setOption(buildOption() as any);
    return () => chart.dispose();
  }, []);
  return <div ref={ref} style={{ position: "absolute", left: 0, top: 0, width: 773, height: 740 }} />;
}
